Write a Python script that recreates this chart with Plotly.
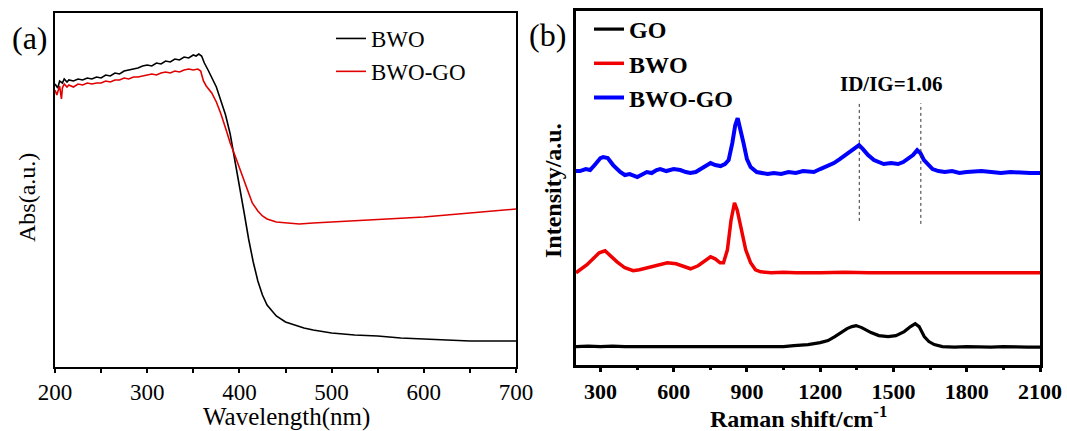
import plotly.graph_objects as go

# ---------------- (a) UV-vis absorbance ----------------
wl_bwo = [200, 203, 205, 208, 210, 213, 215, 220, 225, 230, 235, 240, 245, 250, 255, 260,
          265, 270, 275, 280, 285, 290, 295, 300, 305, 310, 315, 320, 325, 330, 335, 340,
          345, 350, 353, 356, 359, 362, 366, 370, 375, 380, 385, 390, 395, 400, 405, 410,
          415, 420, 425, 430, 435, 440, 450, 460, 470, 480, 500, 525, 550, 575, 600, 625,
          650, 675, 700]
abs_bwo = [283, 279, 286, 284, 288, 285, 287, 286, 288, 287, 289, 288, 290, 289, 292, 291,
           294, 293, 296, 297, 298, 299, 301, 302, 301, 304, 303, 306, 305, 308, 307, 310,
           309, 312, 311, 313, 311, 304, 297, 290, 280, 266, 252, 233, 208, 182, 155, 128,
           105, 86, 72, 62, 56, 51, 45, 42, 39, 37, 34, 32, 31, 29, 28, 27, 26, 26, 26]

wl_bwogo = [200, 202, 205, 207, 208, 210, 213, 215, 220, 225, 230, 235, 240, 245, 250, 255,
            260, 265, 270, 275, 280, 285, 290, 295, 300, 305, 310, 315, 320, 325, 330, 335,
            340, 345, 350, 355, 358, 361, 364, 370, 375, 380, 386, 390, 395, 400, 405, 410,
            414, 420, 425, 430, 440, 450, 465, 480, 500, 550, 600, 650, 700]
abs_bwogo = [277, 272, 281, 268, 279, 283, 280, 282, 280, 283, 282, 284, 283, 284, 284, 286,
             285, 287, 287, 289, 288, 290, 290, 291, 292, 293, 292, 294, 295, 294, 296, 295,
             297, 298, 297, 298, 296, 286, 281, 274, 265, 253, 236, 224, 212, 200, 187, 174,
             164, 156, 151, 148, 145, 144, 143, 144, 145, 147, 150, 154, 158]

# ---------------- (b) Raman spectra ----------------
rs_go = [200, 250, 300, 350, 400, 450, 500, 550, 600, 650, 700, 750, 800, 850, 900, 950,
         1000, 1050, 1092, 1150, 1200, 1232, 1260, 1285, 1310, 1330, 1347, 1370, 1390, 1408,
         1440, 1478, 1510, 1544, 1570, 1589, 1605, 1626, 1645, 1667, 1700, 1750, 1800, 1850,
         1900, 1950, 2000, 2050, 2100]
int_go = [18, 18.5, 18, 18.5, 18, 18, 17.5, 18, 17.5, 18, 17.5, 17.5, 18, 17.5, 17.5, 18,
          18, 18, 19, 20, 22, 24, 28, 32, 36, 38, 39, 37, 34, 32,
          29, 28, 29, 33, 38, 41, 38, 28, 23, 20, 18, 17.5, 18, 17.5,
          17.5, 18, 17.5, 17.5, 17.5]

rs_bwo = [200, 225, 245, 270, 295, 319, 340, 368, 400, 434, 460, 492, 530, 574, 610, 640,
          669, 700, 730, 751, 770, 790, 804, 820, 835, 849, 860, 872, 882, 895, 915, 935,
          956, 1000, 1050, 1100, 1200, 1300, 1400, 1500, 1600, 1700, 1800, 1900, 2000, 2100]
int_bwo = [92, 96, 100, 106, 112, 114, 109, 103, 97, 94, 95, 97, 100, 102, 101, 98,
           96, 99, 104, 108, 106, 102, 102, 115, 145, 162, 155, 140, 130, 115, 102, 95,
           93, 92, 92.5, 92, 92, 92.5, 92, 92, 92, 91.5, 92, 91.5, 92, 92]

rs_bwogo = [200, 216, 240, 258, 280, 300, 311, 330, 352, 370, 381, 400, 420, 451, 470, 490,
            510, 530, 545, 570, 600, 627, 650, 668, 690, 710, 730, 751, 770, 792, 810, 825,
            840, 852, 862, 872, 886, 900, 915, 940, 960, 985, 1010, 1040, 1070, 1100, 1130,
            1174, 1200, 1230, 1256, 1280, 1313, 1340, 1359, 1375, 1396, 1420, 1437, 1460,
            1490, 1519, 1540, 1560, 1580, 1597, 1610, 1625, 1643, 1660, 1684, 1710, 1740,
            1770, 1800, 1830, 1860, 1900, 1940, 1980, 2020, 2060, 2100]
int_bwogo = [194, 194, 196, 195, 201, 207, 208, 207, 200, 195, 193, 190, 191, 188, 190, 193,
             192, 195, 196, 194, 196, 195, 193, 192, 193, 196, 199, 202, 200, 199, 201, 205,
             222, 240, 247, 238, 222, 206, 198, 193, 192, 191, 192, 191, 193, 192, 194,
             193, 196, 199, 202, 206, 212, 217, 220, 216, 210, 205, 203, 201,
             202, 201, 203, 206, 210, 215, 212, 205, 200, 196, 194, 193, 194,
             192, 193, 194, 194, 193, 192, 193, 192, 192, 192]

dg_positions = [1360, 1612]
dg_ybottom = [144, 141]
dg_ytop = [262, 262]
ratio_label = "ID/IG=1.06"

SERIF = "Liberation Serif, Times New Roman, serif"

fig = go.Figure()

fig.add_trace(go.Scatter(x=wl_bwo, y=abs_bwo, mode="lines", name="BWO",
                         line=dict(color="black", width=1.6), xaxis="x", yaxis="y",
                         legend="legend"))
fig.add_trace(go.Scatter(x=wl_bwogo, y=abs_bwogo, mode="lines", name="BWO-GO",
                         line=dict(color="#e00000", width=1.6), xaxis="x", yaxis="y",
                         legend="legend"))

fig.add_trace(go.Scatter(x=rs_go, y=int_go, mode="lines", name="<b>GO</b>",
                         line=dict(color="black", width=3.2), xaxis="x2", yaxis="y2",
                         legend="legend2"))
fig.add_trace(go.Scatter(x=rs_bwo, y=int_bwo, mode="lines", name="<b>BWO</b>",
                         line=dict(color="#f00000", width=3.5), xaxis="x2", yaxis="y2",
                         legend="legend2"))
fig.add_trace(go.Scatter(x=rs_bwogo, y=int_bwogo, mode="lines", name="<b>BWO-GO</b>",
                         line=dict(color="#0000ff", width=4), xaxis="x2", yaxis="y2",
                         legend="legend2"))

for xp, yb, yt in zip(dg_positions, dg_ybottom, dg_ytop):
    fig.add_trace(go.Scatter(x=[xp, xp], y=[yb, yt], mode="lines", showlegend=False,
                             line=dict(color="#333333", width=1, dash="dot"),
                             xaxis="x2", yaxis="y2", hoverinfo="skip"))

W, H = 1067, 431
def px(x):
    return x / W
def py(y):
    return (H - y) / H

axis_common = dict(showgrid=False, zeroline=False, mirror=True, showline=True,
                   linecolor="black", tickcolor="black", automargin=False)

def label(text, x, y, size, angle=0):
    return dict(text=text, x=px(x), y=py(y), xref="paper", yref="paper",
                xanchor="center", yanchor="middle", showarrow=False, textangle=angle,
                font=dict(family=SERIF, size=size, color="black"))

fig.update_layout(
    template="none",
    width=W, height=H,
    margin=dict(l=0, r=0, t=0, b=0, pad=0, autoexpand=False),
    paper_bgcolor="white", plot_bgcolor="white",
    font=dict(family=SERIF, color="black"),
    xaxis=dict(domain=[px(55), px(516)], range=[200, 700], dtick=100, tick0=0,
               linewidth=1.5, ticks="outside", ticklen=4, tickwidth=1.5,
               tickfont=dict(family=SERIF, size=23, color="black"),
               minor=dict(dtick=50, ticks="outside", ticklen=4, tickwidth=1.5, tickcolor="black"),
               anchor="y", **axis_common),
    yaxis=dict(domain=[py(367), py(13)], range=[0, 354], showticklabels=False,
               linewidth=1.5, ticks="", anchor="x", **axis_common),
    xaxis2=dict(domain=[px(576), px(1040)], range=[200, 2100], dtick=300, tick0=0,
                linewidth=2.5, ticks="outside", ticklen=5, tickwidth=2.5,
                tickfont=dict(family=SERIF, size=22, weight="bold", color="black"),
                minor=dict(dtick=150, ticks="outside", ticklen=3, tickwidth=2.5, tickcolor="black"),
                anchor="y2", **axis_common),
    yaxis2=dict(domain=[py(364.5), py(10.5)], range=[0, 355], showticklabels=False,
                linewidth=2.5, ticks="", anchor="x2", **axis_common),
    legend=dict(x=px(331), y=py(17), xanchor="left", yanchor="top",
                bgcolor="rgba(0,0,0,0)", font=dict(family=SERIF, size=23, color="black"),
                tracegroupgap=0),
    legend2=dict(x=px(589), y=py(7), xanchor="left", yanchor="top",
                 bgcolor="rgba(0,0,0,0)", font=dict(family=SERIF, size=24, color="black"),
                 tracegroupgap=0),
    annotations=[
        label("(a)", 30, 38, 32),
        label("(b)", 547, 35, 32),
        label("Wavelength(nm)", 286, 417, 25),
        label("Abs(a.u.)", 27, 198, 24, -90),
        label("<b>Raman shift/cm<sup>-1</sup></b>", 798, 417, 24),
        label("<b>Intensity/a.u.</b>", 553, 191, 24, -90),
        label("<b>" + ratio_label + "</b>", 891, 84, 21),
    ],
)

fig.write_html("out.html")
